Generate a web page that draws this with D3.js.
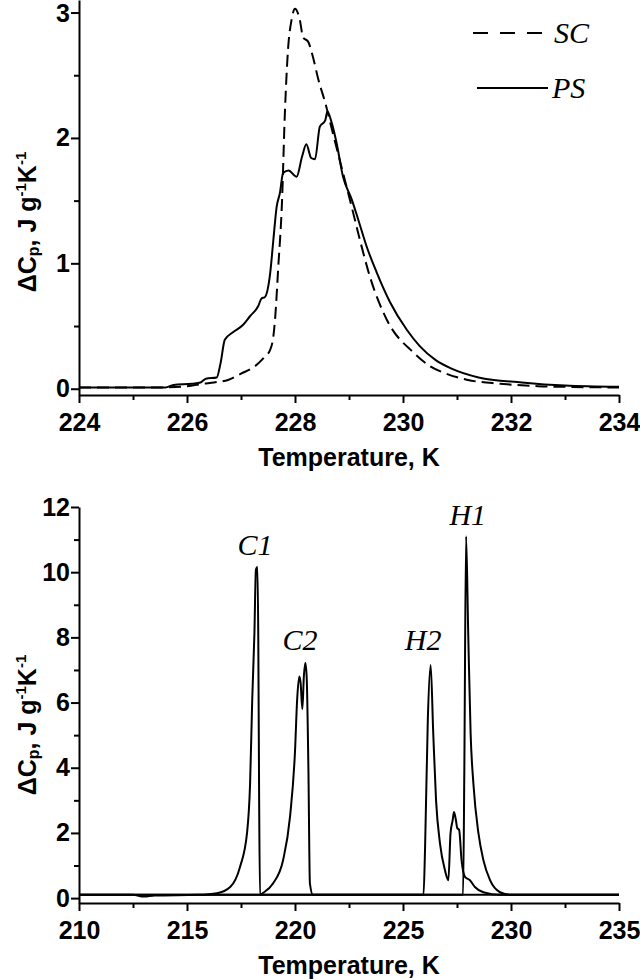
<!DOCTYPE html>
<meta charset="utf-8">
<style>
body { margin: 0; background: #fff; }
.axis text { font: bold 25px "Liberation Sans", Arial, sans-serif; fill: #000; }
.axis path, .axis line { stroke: #000; stroke-width: 2px; }
.lbl { font: bold 25px "Liberation Sans", Arial, sans-serif; }
.tag { font: italic 30px "Liberation Serif", "Times New Roman", serif; }
.curve { fill: none; stroke: #000; stroke-width: 2px; }
</style>
<body>
<script src="https://cdn.jsdelivr.net/npm/d3@7"></script>
<script>

// ---- top panel data (T, dCp) ----
var topXTicks = [224, 226, 228, 230, 232, 234];
var topYTicks = [0, 1, 2, 3];
var scData = [[224,0.01],[225.5,0.01],[226.0,0.02],[226.3,0.04],[226.5,0.05],[226.76,0.07],[227.0,0.12],[227.26,0.18],
  [227.45,0.26],[227.54,0.31],[227.6,0.42],[227.63,0.55],[227.69,0.97],[227.76,1.5],[227.81,2.17],[227.87,2.7],
  [227.94,2.95],[228.0,3.03],[228.05,3.0],[228.09,2.94],[228.15,2.8],[228.24,2.77],[228.33,2.65],[228.43,2.47],
  [228.56,2.28],[228.7,2.04],[228.89,1.72],[229.05,1.45],[229.2,1.19],[229.39,0.89],[229.7,0.55],[230.19,0.29],
  [230.5,0.18],[230.8,0.12],[231.2,0.07],[231.8,0.04],[232.5,0.02],[233,0.015],[234,0.01]];
var psData = [[224,0.01],[225.6,0.01],[225.75,0.03],[226.1,0.04],[226.25,0.05],[226.35,0.08],[226.55,0.09],[226.62,0.2],
  [226.7,0.39],[226.85,0.45],[227.04,0.51],[227.17,0.58],[227.32,0.66],[227.38,0.72],[227.44,0.73],[227.54,0.92],
  [227.6,1.19],[227.66,1.45],[227.72,1.56],[227.78,1.72],[227.88,1.74],[228.03,1.69],[228.13,1.85],[228.21,1.95],
  [228.3,1.84],[228.37,1.83],[228.46,2.09],[228.56,2.14],[228.6,2.21],[228.68,2.12],[228.77,1.96],[228.89,1.69],
  [229.05,1.51],[229.17,1.35],[229.33,1.13],[229.51,0.93],[229.76,0.69],[230.07,0.47],[230.31,0.34],[230.6,0.23],
  [230.9,0.16],[231.4,0.09],[232.2,0.05],[233,0.025],[234,0.015]];

// ---- bottom panel data ----
var botXTicks = [210, 215, 220, 225, 230, 235];
var botYTicks = [0, 2, 4, 6, 8, 10, 12];
var coolData = [[210,0.1],[212.5,0.1],[213,0.05],[213.5,0.08],[215.5,0.1],[216.39,0.15],[217.0,0.34],[217.45,0.95],
  [217.78,2.0],[217.92,3.5],[218.02,6.1],[218.12,8.1],[218.19,10.07],[218.26,10.16],[218.3,8.0],[218.34,3.0],
  [218.38,0.1],[218.5,0.15],[218.98,0.45],[219.45,1.17],[219.77,2.5],[220.0,4.5],[220.1,6.1],[220.2,6.8],
  [220.26,6.6],[220.34,5.8],[220.41,6.8],[220.48,7.22],[220.54,6.8],[220.62,4.0],[220.69,0.45],[220.83,0.1],
  [225,0.1],[235,0.1]];
var heatData = [[210,0.1],[225.95,0.1],[226.02,1.5],[226.15,5.5],[226.28,7.15],[226.4,5.06],[226.53,3.0],[226.71,1.69],
  [226.94,0.86],[227.1,0.55],[227.2,1.99],[227.3,2.39],[227.36,2.64],[227.45,2.39],[227.51,2.15],[227.6,2.09],
  [227.71,1.17],[227.87,0.65],[228.1,0.55],[228.33,0.34],[228.72,0.18],[229.5,0.1],[235,0.1]];
var heat2Data = [[210,0.1],[227.78,0.1],[227.84,4.0],[227.92,11.1],[228.02,8.1],[228.13,5.06],[228.26,3.5],[228.49,2.0],
  [228.72,1.17],[229.03,0.55],[229.49,0.18],[229.95,0.1],[235,0.1]];
var peakNames = ["C1", "C2", "H2", "H1"];
var peakPos = [[218.15,10.53],[220.23,7.61],[225.93,7.61],[228.0,11.45]];

var svg = d3.select("body").append("svg")
  .attr("width", 640)
  .attr("height", 979);

function yLabel(g, cx, cy) {
  var t = g.append("text").attr("class", "lbl")
    .attr("transform", "translate(" + cx + "," + cy + ") rotate(-90)")
    .attr("text-anchor", "middle");
  t.append("tspan").text("\u0394C");
  t.append("tspan").attr("font-size", 16).attr("dy", 3).text("p");
  t.append("tspan").attr("dy", -3).text(", J g");
  t.append("tspan").attr("font-size", 15).attr("dy", -10).text("-1");
  t.append("tspan").attr("dy", 10).text("K");
  t.append("tspan").attr("font-size", 15).attr("dy", -10).text("-1");
}

function panel(o) {
  var x = d3.scaleLinear().domain(o.xd).range([79, 619]);
  var y = d3.scaleLinear().domain(o.yd).range(o.yr);
  var g = svg.append("g");

  // minor ticks
  g.append("g").attr("class", "axis")
    .attr("transform", "translate(0," + o.yr[0] + ")")
    .call(d3.axisBottom(x).tickValues(o.xMinor).tickSize(5).tickFormat(""))
    .select(".domain").remove();
  g.append("g").attr("class", "axis")
    .attr("transform", "translate(79,0)")
    .call(d3.axisLeft(y).tickValues(o.yMinor).tickSize(5).tickFormat(""))
    .select(".domain").remove();

  g.append("g").attr("class", "axis")
    .attr("transform", "translate(0," + o.yr[0] + ")")
    .call(d3.axisBottom(x).tickValues(o.xTicks).tickSize(8).tickSizeOuter(0).tickPadding(10).tickFormat(d3.format("d")));
  g.append("g").attr("class", "axis")
    .attr("transform", "translate(79,0)")
    .call(d3.axisLeft(y).tickValues(o.yTicks).tickSize(8).tickSizeOuter(0).tickPadding(1).tickFormat(d3.format("d")));

  g.append("text").attr("class", "lbl")
    .attr("x", 349).attr("y", o.yr[0] + 71)
    .attr("text-anchor", "middle")
    .text("Temperature, K");
  yLabel(g, 36, o.labelY);

  var line = d3.line()
    .x(function(d) { return x(d[0]); })
    .y(function(d) { return y(d[1]); })
    .curve(d3.curveMonotoneX);
  o.series.forEach(function(s) {
    g.append("path").attr("class", "curve")
      .attr("stroke-dasharray", s.dash || null)
      .attr("d", line(s.data));
  });
  return {g: g, x: x, y: y};
}

// top panel
var p1 = panel({
  xd: [224, 234], yd: [-0.05, 3.1], yr: [395, 0],
  xTicks: topXTicks, yTicks: topYTicks,
  xMinor: [225, 227, 229, 231, 233], yMinor: [0.5, 1.5, 2.5],
  labelY: 222,
  series: [{data: scData, dash: "12,6"}, {data: psData}]
});
// keep the "3" label inside the picture
p1.g.selectAll(".axis text").filter(function(d) { return d === 3; }).attr("dy", "0.36em");

// legend
var leg = p1.g.append("g");
leg.append("line").attr("x1", 473).attr("x2", 548).attr("y1", 33).attr("y2", 33)
  .attr("stroke", "#000").attr("stroke-width", 2).attr("stroke-dasharray", "15,12");
leg.append("text").attr("class", "tag").attr("x", 554).attr("y", 43).text("SC");
leg.append("line").attr("x1", 477).attr("x2", 548).attr("y1", 88).attr("y2", 88)
  .attr("stroke", "#000").attr("stroke-width", 2);
leg.append("text").attr("class", "tag").attr("x", 552).attr("y", 98).text("PS");

// bottom panel
var p2 = panel({
  xd: [210, 235], yd: [-0.15, 12], yr: [903, 507],
  xTicks: botXTicks, yTicks: botYTicks,
  xMinor: [212.5, 217.5, 222.5, 227.5, 232.5], yMinor: [1, 3, 5, 7, 9, 11],
  labelY: 725,
  series: [{data: coolData}, {data: heatData}, {data: heat2Data}]
});
p2.g.selectAll(".curve").attr("stroke-width", 1.8);

p2.g.selectAll(".tag").data(peakNames).enter().append("text")
  .attr("class", "tag")
  .attr("text-anchor", "middle")
  .attr("x", function(d, i) { return p2.x(peakPos[i][0]); })
  .attr("y", function(d, i) { return p2.y(peakPos[i][1]); })
  .text(function(d) { return d; });
</script>
</body>
